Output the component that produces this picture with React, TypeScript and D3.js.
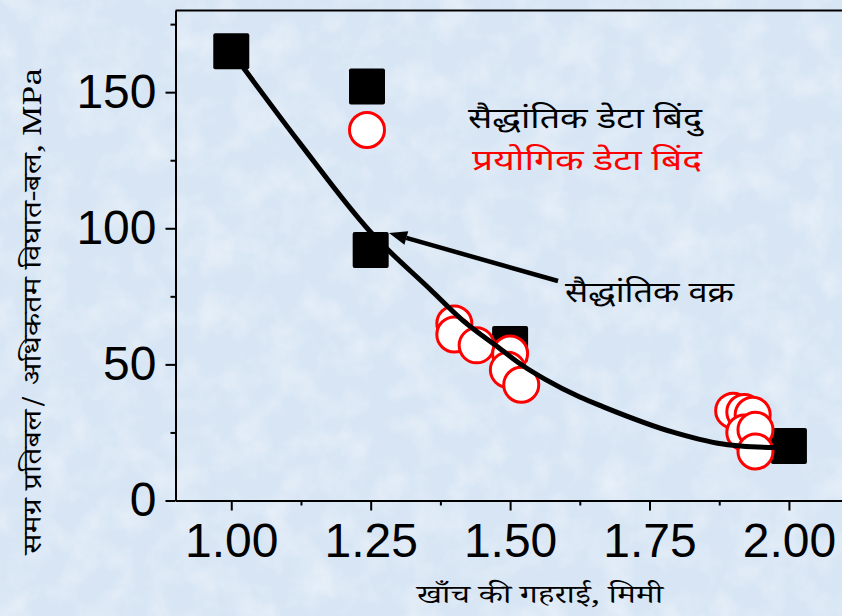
import { useEffect, useRef } from "react";
import * as d3 from "d3";

// theoretical points (filled squares)
const theoX = [1.0, 1.25, 1.5, 2.0];
const theoY = [165, 92, 57.5, 20];

// experimental points (open red circles)
const expX = [1.4, 1.4, 1.44, 1.5, 1.496, 1.52, 1.9, 1.92, 1.935, 1.92, 1.94, 1.94];
const expY = [65, 61, 57, 54, 48, 42.5, 33, 32.5, 31.5, 25, 26, 18];

// theoretical curve
const curveX = [1.0, 1.124, 1.248, 1.357, 1.416, 1.474, 1.523, 1.563, 1.625, 1.666, 1.794, 1.89, 1.977, 2.0];
const curveY = [165, 131, 99, 77.5, 66, 57, 49.5, 44.5, 38, 34.5, 25, 20.5, 19.5, 19.5];

const xMajor = [1.0, 1.25, 1.5, 1.75, 2.0];
const xMinor = [1.125, 1.375, 1.625, 1.875];
const yMajor = [0, 50, 100, 150];
const yMinor = [25, 75, 125, 175];

const legendTheo = "सैद्धांतिक डेटा बिंदु";
const legendExp = "प्रयोगिक डेटा बिंद";
const curveLabel = "सैद्धांतिक वक्र";
const xTitle = "खाँच की गहराई, मिमी";
const yTitle = "समग्र प्रतिबल/ अधिकतम विघात-बल, MPa";

const W = 842;
const H = 616;
const left = 175.5;
const right = 844.7;
const top = 10.5;
const bottom = 500.5;

const devSans = "'Noto Sans Devanagari', 'Lohit Devanagari', Mangal, 'Noto Sans', sans-serif";
const devSerif = "'Noto Serif Devanagari', Kokila, 'Liberation Serif', 'DejaVu Serif', serif";
const numFont = "'Liberation Sans', Arial, sans-serif";

export default function App() {
  const svgRef = useRef<SVGSVGElement | null>(null);

  useEffect(() => {
    const svg = d3.select(svgRef.current);
    svg.selectAll("*").remove();

    const defs = svg.append("defs");
    const f = defs.append("filter").attr("id", "tex").attr("x", 0).attr("y", 0).attr("width", 1).attr("height", 1);
    f.append("feTurbulence")
      .attr("type", "fractalNoise")
      .attr("baseFrequency", 0.03)
      .attr("numOctaves", 4)
      .attr("seed", 7);
    f.append("feColorMatrix")
      .attr("type", "matrix")
      .attr("values", "0 0 0 0 1  0 0 0 0 1  0 0 0 0 1  0 0 0 1.4 -0.55");

    svg.append("rect").attr("width", W).attr("height", H).attr("fill", "#d7e5f4");
    svg.append("rect").attr("width", W).attr("height", H).attr("filter", "url(#tex)").attr("opacity", 0.55);

    const x = d3.scaleLinear().domain([0.9, 2.1]).range([left, right]);
    const y = d3.scaleLinear().domain([0, 180]).range([bottom, top]);

    // axes
    const gx = svg.append("g").attr("transform", `translate(0,${bottom})`);
    gx.call(
      d3.axisBottom(x).tickValues(xMajor).tickFormat(d3.format(".2f")).tickSize(10).tickSizeOuter(0).tickPadding(12)
    );
    gx.append("g").call(d3.axisBottom(x).tickValues(xMinor).tickFormat(() => "").tickSize(5).tickSizeOuter(0))
      .select(".domain").remove();

    const gy = svg.append("g").attr("transform", `translate(${left},0)`);
    gy.call(d3.axisLeft(y).tickValues(yMajor).tickSize(10).tickSizeOuter(0).tickPadding(9));
    gy.append("g").call(d3.axisLeft(y).tickValues(yMinor).tickFormat(() => "").tickSize(5).tickSizeOuter(0))
      .select(".domain").remove();

    svg.selectAll(".domain").attr("stroke", "#000").attr("stroke-width", 2);
    svg.selectAll(".tick line").attr("stroke", "#000").attr("stroke-width", 2);
    svg.selectAll(".tick text")
      .attr("fill", "#000")
      .style("font-family", numFont)
      .style("font-size", "48px");

    // top frame line
    svg.append("line")
      .attr("x1", left).attr("x2", right)
      .attr("y1", top).attr("y2", top)
      .attr("stroke", "#000").attr("stroke-width", 2);

    // squares
    const sq = 36;
    svg.append("g")
      .selectAll("rect")
      .data(theoX.map((v, i) => [v, theoY[i]]))
      .join("rect")
      .attr("x", (d) => x(d[0]) - sq / 2)
      .attr("y", (d) => y(d[1]) - sq / 2)
      .attr("width", sq)
      .attr("height", sq)
      .attr("rx", 2)
      .attr("fill", "#000");

    // circles
    svg.append("g")
      .selectAll("circle")
      .data(expX.map((v, i) => [v, expY[i]]))
      .join("circle")
      .attr("cx", (d) => x(d[0]))
      .attr("cy", (d) => y(d[1]))
      .attr("r", 17.5)
      .attr("fill", "#fff")
      .attr("stroke", "#ff0000")
      .attr("stroke-width", 3);

    // curve
    const line = d3.line<number>()
      .x((d) => x(curveX[d]))
      .y((d) => y(curveY[d]))
      .curve(d3.curveMonotoneX);
    svg.append("path")
      .attr("d", line(curveX.map((_, i) => i)))
      .attr("fill", "none")
      .attr("stroke", "#000")
      .attr("stroke-width", 5);

    // legend
    svg.append("rect").attr("x", 349).attr("y", 68.5).attr("width", sq).attr("height", sq).attr("rx", 2).attr("fill", "#000");
    svg.append("circle").attr("cx", 367).attr("cy", 130).attr("r", 17.5)
      .attr("fill", "#fff").attr("stroke", "#ff0000").attr("stroke-width", 3);
    svg.append("text").attr("x", 468).attr("y", 128).text(legendTheo)
      .attr("textLength", 234).attr("lengthAdjust", "spacingAndGlyphs")
      .style("font-family", devSans).style("font-size", "29px").attr("fill", "#000");
    svg.append("text").attr("x", 472).attr("y", 170).text(legendExp)
      .attr("textLength", 230).attr("lengthAdjust", "spacingAndGlyphs")
      .style("font-family", devSans).style("font-size", "29px").attr("fill", "#ff0000");

    // arrow + label
    const ax0 = 558, ay0 = 281, ax1 = 389, ay1 = 233;
    const ang = Math.atan2(ay1 - ay0, ax1 - ax0);
    const hl = 18, hw = 7;
    const bx = ax1 - hl * Math.cos(ang), by = ay1 - hl * Math.sin(ang);
    svg.append("line")
      .attr("x1", ax0).attr("y1", ay0).attr("x2", bx).attr("y2", by)
      .attr("stroke", "#000").attr("stroke-width", 4.5);
    svg.append("path")
      .attr("d", `M${ax1},${ay1}L${bx + hw * Math.sin(ang)},${by - hw * Math.cos(ang)}L${bx - hw * Math.sin(ang)},${by + hw * Math.cos(ang)}Z`)
      .attr("fill", "#000");
    svg.append("text").attr("x", 565).attr("y", 302).text(curveLabel)
      .attr("textLength", 169).attr("lengthAdjust", "spacingAndGlyphs")
      .style("font-family", devSans).style("font-size", "29px").attr("fill", "#000");

    // axis titles
    svg.append("text").attr("x", 540).attr("y", 603).attr("text-anchor", "middle").text(xTitle)
      .attr("textLength", 246).attr("lengthAdjust", "spacingAndGlyphs")
      .style("font-family", devSerif).style("font-size", "26px").attr("fill", "#000");
    svg.append("text")
      .attr("transform", `translate(41,311) rotate(-90)`)
      .attr("text-anchor", "middle")
      .attr("textLength", 487).attr("lengthAdjust", "spacingAndGlyphs")
      .text(yTitle)
      .style("font-family", devSerif).style("font-size", "25px").attr("fill", "#000");
  }, []);

  return (
    <div style={{ position: "fixed", left: 0, top: 0, width: W, height: H, overflow: "hidden" }}>
      <svg ref={svgRef} width={W} height={H} style={{ display: "block" }} />
    </div>
  );
}
